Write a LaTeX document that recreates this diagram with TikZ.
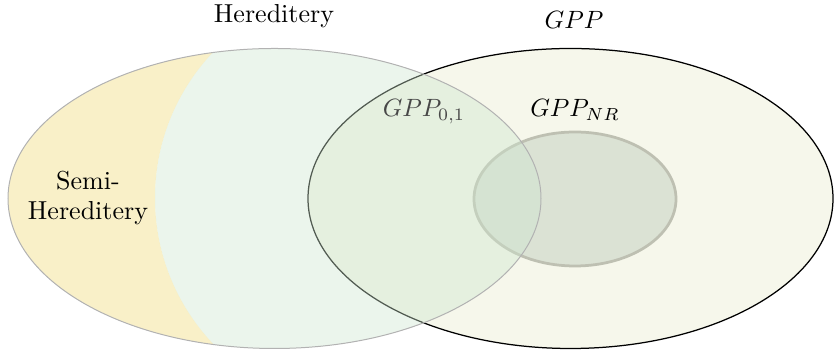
\documentclass[tikz,border=0pt]{standalone}
\usepackage{xcolor}
\usepackage{tikz}

\definecolor{gppfill}{RGB}{246,247,235}
\definecolor{nrfill}{RGB}{219,226,212}
\definecolor{nrline}{RGB}{190,192,178}
\definecolor{herfill}{RGB}{205,230,207}
\definecolor{semifill}{RGB}{249,240,200}

\begin{document}
\begin{tikzpicture}[
  x=0.4pt, y=-0.4pt,
  setlabel/.style={inner sep=1pt, align=center,
    font=\fontsize{10.4}{12}\selectfont},
  outerset/.style={draw=black, line width=0.5pt, fill=gppfill},
  innerset/.style={draw=nrline, line width=1.1pt, fill=nrfill},
  herset/.style={draw=black!30, line width=0.4pt}
]
\useasboundingbox (0,0) rectangle (834,350);

% GPP and GPP_NR
\path[outerset] (570.5,198.5) ellipse [x radius=262.5, y radius=150];
\path[innerset] (575,199) ellipse [x radius=101, y radius=67];

% Hereditery and Semi-Hereditery
\begin{scope}
  \clip (274.5,198.5) ellipse [x radius=266.5, y radius=150];
  \fill[semifill, even odd rule] (0,0) rectangle (834,350)
    (367,198) circle [radius=212];
  \fill[herfill, opacity=0.4] (367,198) circle [radius=212];
\end{scope}
\path[herset] (274.5,198.5) ellipse [x radius=266.5, y radius=150];

\node[setlabel, text=black!72] (gppzero) at (424,112) {$GPP_{0,1}$};
\node[setlabel] (hered) at (274,16) {Hereditery};
\node[setlabel] (gpp) at (574,20) {$GPP$};
\node[setlabel] (gppnr) at (575,110) {$GPP_{NR}$};
\node[setlabel] (semi) at (88,198) {Semi-\\Hereditery};
\end{tikzpicture}
\end{document}
